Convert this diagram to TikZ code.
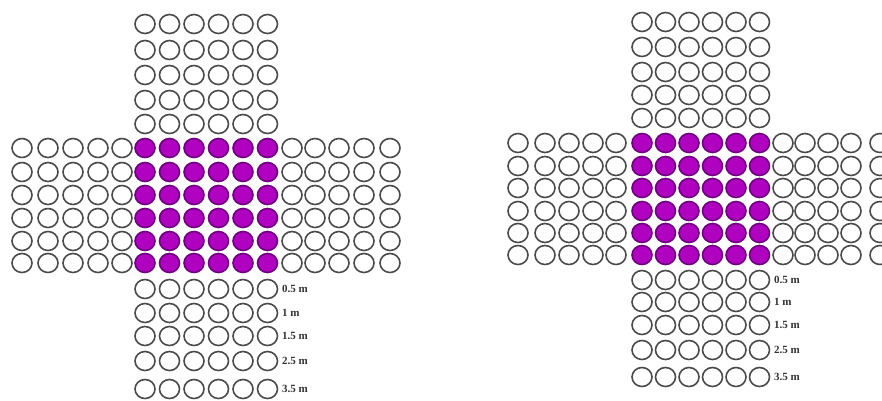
\documentclass[tikz,border=0pt]{standalone}
\usepackage{fontspec}
\setmainfont{Liberation Serif}
\usetikzlibrary{shapes.geometric}
\definecolor{ring}{HTML}{4A4A4A}
\definecolor{purp}{HTML}{B000C0}
\definecolor{purpedge}{HTML}{6E0080}
\begin{document}
\begin{tikzpicture}[x=1pt,y=-1pt,
  hole/.style={ellipse, draw=ring, line width=1.6pt, minimum width=20pt, minimum height=19pt, inner sep=0pt},
  fillhole/.style={hole, fill=purp, draw=purpedge},
  dist/.style={anchor=west, font=\bfseries\fontsize{11}{12}\selectfont, inner sep=0pt, text=black!80}]
\useasboundingbox (0,0) rectangle (882,400);
\fill[white] (0,0) rectangle (882,400);
% ---------- left figure ----------
\foreach \x [count=\i] in {145,169.5,194,218.5,243,267.5}{
  \foreach \y [count=\j] in {24,50,75,100,124} \node[hole] (LT-\i-\j) at (\x,\y) {};
  \foreach \y [count=\j] in {148,172,195,218,241,263} \node[fillhole] (LC-\i-\j) at (\x,\y) {};
  \foreach \y [count=\j] in {289,313,336,361,389} \node[hole] (LB-\i-\j) at (\x,\y) {};
}
\foreach \y [count=\j] in {148,172,195,218,241,263}{
  \foreach \x [count=\i] in {22,48,73,98,122} \node[hole] (LW-\i-\j) at (\x,\y) {};
  \foreach \x [count=\i] in {292,315,339,364,390} \node[hole] (LE-\i-\j) at (\x,\y) {};
}
\node[dist] (LL1) at (282,289) {0.5 m};
\node[dist] (LL2) at (282,313) {1 m};
\node[dist] (LL3) at (282,336) {1.5 m};
\node[dist] (LL4) at (282,361) {2.5 m};
\node[dist] (LL5) at (282,389) {3.5 m};
% ---------- right figure ----------
\foreach \x [count=\i] in {642,665.5,689,712.5,736,759.5}{
  \foreach \y [count=\j] in {22,47,72,95,118} \node[hole] (RT-\i-\j) at (\x,\y) {};
  \foreach \y [count=\j] in {143,166,188,211,233,255} \node[fillhole] (RC-\i-\j) at (\x,\y) {};
  \foreach \y [count=\j] in {280,302,325,350,377} \node[hole] (RB-\i-\j) at (\x,\y) {};
}
\foreach \y [count=\j] in {143,166,188,211,233,255}{
  \foreach \x [count=\i] in {518,545,569,593,616} \node[hole] (RW-\i-\j) at (\x,\y) {};
  \foreach \x [count=\i] in {783,805,828,851,880} \node[hole] (RE-\i-\j) at (\x,\y) {};
}
\node[dist] (RL1) at (774,280) {0.5 m};
\node[dist] (RL2) at (774,302) {1 m};
\node[dist] (RL3) at (774,325) {1.5 m};
\node[dist] (RL4) at (774,350) {2.5 m};
\node[dist] (RL5) at (774,377) {3.5 m};
\end{tikzpicture}
\end{document}
